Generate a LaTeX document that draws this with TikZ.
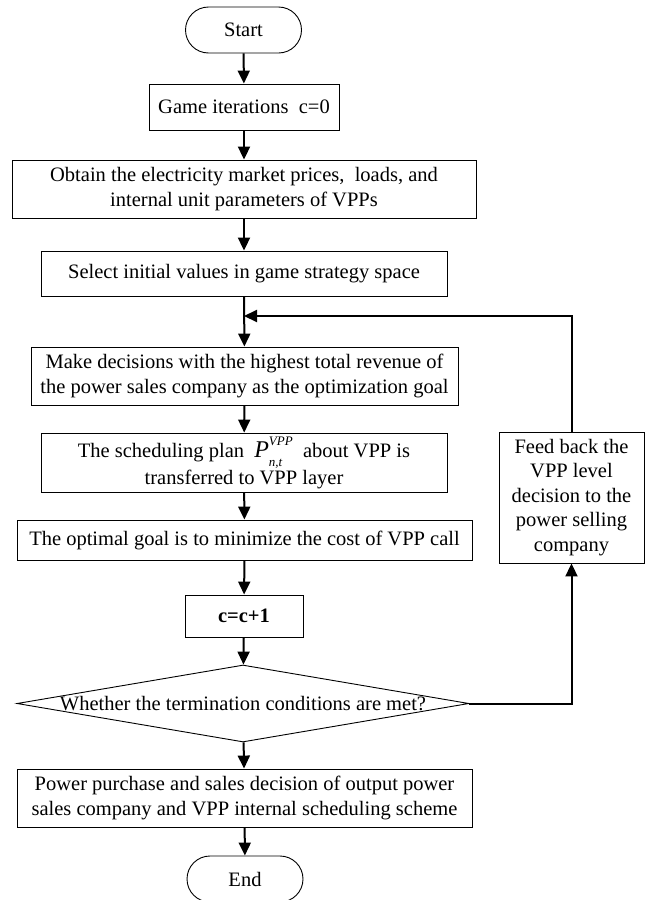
\documentclass[tikz,border=0pt]{standalone}
\usepackage{fontspec}
\setmainfont{Liberation Serif}
\usetikzlibrary{shapes.misc,shapes.geometric,arrows.meta}
\tikzset{
  box/.style={draw,line width=0.9pt,inner sep=0pt,align=center,font=\fontsize{20.5pt}{24.5pt}\selectfont},
  term/.style={box,rounded rectangle,minimum width=116pt,minimum height=46pt},
  dec/.style={box,diamond,minimum width=452pt,minimum height=77pt},
  arr/.style={line width=2pt,-{Triangle[length=13pt,width=12pt]}},
}
\begin{document}
\begin{tikzpicture}[x=1pt,y=-1pt]
\useasboundingbox (0,0) rectangle (646,900);
\node[term] (start) at (243.5,30) {Start};
\node[box,minimum width=190pt,minimum height=46pt] (game) at (244,107) {Game iterations\ \ c=0};
\node[box,minimum width=464pt,minimum height=58pt] (obtain) at (244,189) {Obtain the electricity market prices,\ \ loads, and\\internal unit parameters of VPPs};
\node[box,minimum width=406pt,minimum height=45pt] (select) at (244,273.5) {Select initial values in game strategy space};
\node[box,minimum width=427pt,minimum height=58pt] (make) at (244.5,376) {Make decisions with the highest total revenue of\\the power sales company as the optimization goal};
\node[box,minimum width=406pt,minimum height=59pt] (sched) at (244,462.5) {The scheduling plan\ \ {\fontsize{24pt}{24pt}\selectfont\textit{P}}\rlap{\raisebox{-0.45em}{\fontsize{13pt}{13pt}\selectfont\textit{n,t}}}\raisebox{0.6em}{\fontsize{13pt}{13pt}\selectfont\textit{VPP}}\ \ about VPP is\\transferred to VPP layer};
\node[box,minimum width=455pt,minimum height=40pt] (optim) at (244.5,540) {The optimal goal is to minimize the cost of VPP call};
\node[box,minimum width=118pt,minimum height=42pt,font=\fontsize{20.5pt}{24.5pt}\selectfont\bfseries] (inc) at (244,616) {c=c+1};
\node[dec] (cond) at (243,703.5) {\makebox[0pt]{Whether the termination conditions are met?}};
\node[box,minimum width=455pt,minimum height=58pt] (power) at (244.5,798) {Power purchase and sales decision of output power\\sales company and VPP internal scheduling scheme};
\node[term] (end) at (245,879) {End};
\node[box,minimum width=145pt,minimum height=131pt] (fb) at (571.5,497.5) {Feed back the\\VPP level\\decision to the\\power selling\\company};
\coordinate (join) at (244,316);
\draw[arr] (start) -- (game);
\draw[arr] (game) -- (obtain);
\draw[arr] (obtain) -- (select);
\draw[arr] (select) -- (make);
\draw[arr] (make) -- (sched);
\draw[arr] (sched) -- (optim);
\draw[arr] (optim) -- (inc);
\draw[arr] (inc) -- (cond);
\draw[arr] (cond) -- (power);
\draw[arr] (power) -- (end);
\draw[arr] (cond.east) -| (fb.south);
\draw[arr] (fb.north) |- (join);
\end{tikzpicture}
\end{document}
